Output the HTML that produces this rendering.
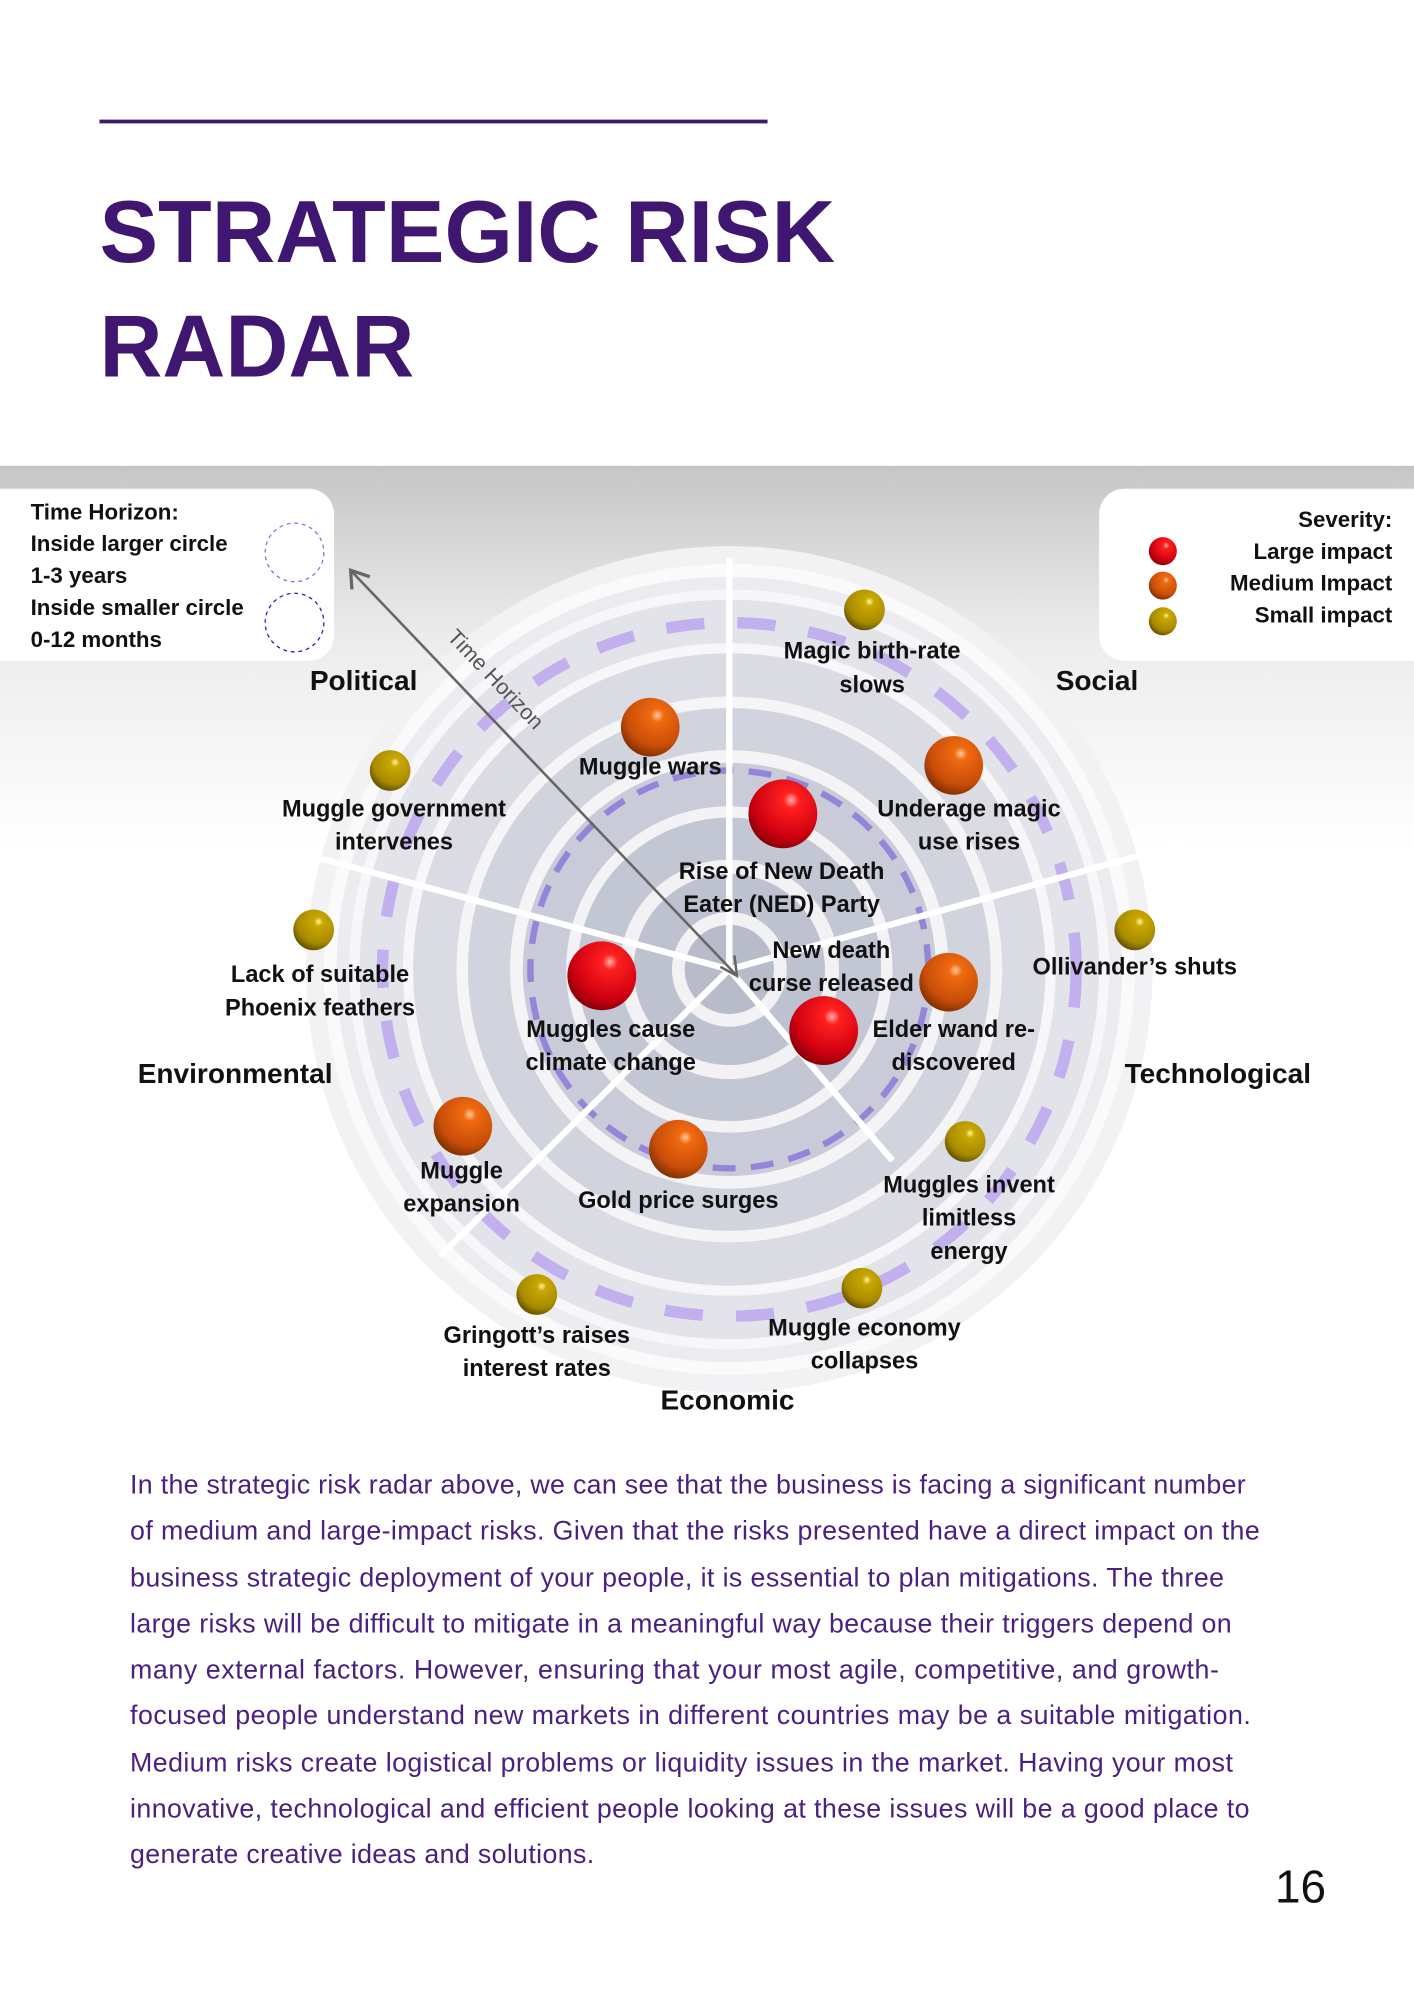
<!DOCTYPE html>
<html><head><meta charset="utf-8"><style>
html,body{margin:0;padding:0;background:#fff;}
svg{display:block;}
text{font-family:"Liberation Sans",sans-serif;}
</style></head><body>
<svg width="1414" height="2000" viewBox="0 0 1109 1568" xmlns="http://www.w3.org/2000/svg">
<defs>
<linearGradient id="bg" x1="0" y1="0" x2="0" y2="1">
<stop offset="0" stop-color="#c6c6c6"/><stop offset="0.45" stop-color="#ececec"/><stop offset="1" stop-color="#ffffff"/>
</linearGradient>
<radialGradient id="red" cx="0.62" cy="0.3" r="0.75">
<stop offset="0" stop-color="#ffb0b0"/><stop offset="0.15" stop-color="#ff2020"/><stop offset="0.7" stop-color="#d00010"/><stop offset="1" stop-color="#800008"/>
</radialGradient>
<radialGradient id="org" cx="0.62" cy="0.3" r="0.75">
<stop offset="0" stop-color="#ffc8a0"/><stop offset="0.15" stop-color="#f06a10"/><stop offset="0.7" stop-color="#c84d08"/><stop offset="1" stop-color="#7a2c02"/>
</radialGradient>
<radialGradient id="yel" cx="0.62" cy="0.3" r="0.75">
<stop offset="0" stop-color="#fff4a0"/><stop offset="0.15" stop-color="#c8a800"/><stop offset="0.7" stop-color="#a88a00"/><stop offset="1" stop-color="#5c4a00"/>
</radialGradient>
</defs>
<rect width="1109" height="1568" fill="#fff"/>
<line x1="78" y1="95" x2="602" y2="95" stroke="#3d1a6e" stroke-width="3"/>
<text x="78" y="205" font-size="69" font-weight="bold" fill="#3f1670" textLength="577" lengthAdjust="spacingAndGlyphs">STRATEGIC RISK</text>
<text x="78" y="295" font-size="69" font-weight="bold" fill="#3f1670" textLength="247" lengthAdjust="spacingAndGlyphs">RADAR</text>
<rect x="0" y="365" width="1109" height="300" fill="url(#bg)"/>

<g>
<circle cx="572" cy="760" r="332" fill="#f2f2f5"/>
<circle cx="572" cy="760" r="318" fill="#fafafb"/>
<circle cx="572" cy="760" r="308" fill="#ebebf0"/>
<circle cx="572" cy="760" r="298" fill="#f7f7f9"/>
<circle cx="572" cy="760" r="290" fill="#e3e4ea"/>
<circle cx="572" cy="760" r="256" fill="#f7f7f9"/>
<circle cx="572" cy="760" r="248" fill="#dadbe3"/>
<circle cx="572" cy="760" r="214" fill="#f5f5f8"/>
<circle cx="572" cy="760" r="205" fill="#d1d3dd"/>
<circle cx="572" cy="760" r="172" fill="#f4f4f7"/>
<circle cx="572" cy="760" r="162" fill="#c9ccd8"/>
<circle cx="572" cy="760" r="128" fill="#f3f3f6"/>
<circle cx="572" cy="760" r="119" fill="#c3c6d3"/>
<circle cx="572" cy="760" r="86" fill="#f2f2f5"/>
<circle cx="572" cy="760" r="75" fill="#bec1cf"/>
<circle cx="572" cy="760" r="45" fill="#f2f2f5"/>
<circle cx="572" cy="760" r="35" fill="#b8bbca"/>
<circle cx="572" cy="760" r="272" fill="none" stroke="#c2b0ee" stroke-width="9" stroke-dasharray="30 26"/>
<circle cx="572" cy="760" r="156" fill="none" stroke="#9485d8" stroke-width="5" stroke-dasharray="18 12"/>
<g stroke="#fff" stroke-width="5">
<line x1="572" y1="760" x2="572" y2="437"/>
<line x1="572" y1="760" x2="925" y2="662"/>
<line x1="572" y1="760" x2="222" y2="665"/>
<line x1="572" y1="760" x2="345" y2="985"/>
<line x1="572" y1="760" x2="700" y2="910"/>
</g>
</g>

<line x1="578" y1="765" x2="275" y2="447" stroke="#666" stroke-width="2"/>
<path d="M290,452 L275,447 L276,462" fill="none" stroke="#666" stroke-width="2.5"/>
<path d="M565,758 L578,765 L576,749" fill="none" stroke="#666" stroke-width="2"/>
<text x="350" y="500" font-size="17" fill="#555" transform="rotate(46.4 350 500)">Time Horizon</text>

<rect x="-20" y="383" width="282" height="135" rx="20" fill="#fff"/>
<g font-size="17.5" font-weight="bold" fill="#111">
<text x="24" y="407">Time Horizon:</text>
<text x="24" y="432">Inside larger circle</text>
<text x="24" y="457">1-3 years</text>
<text x="24" y="482">Inside smaller circle</text>
<text x="24" y="507">0-12 months</text>
</g>
<ellipse cx="231" cy="433" rx="23" ry="23" fill="none" stroke="#8a6cf0" stroke-width="1" stroke-dasharray="3 3"/>
<ellipse cx="231" cy="488" rx="23" ry="23" fill="none" stroke="#2020c0" stroke-width="1" stroke-dasharray="3 3"/>

<rect x="862" y="383" width="280" height="135" rx="20" fill="#fff"/>
<g font-size="17.5" font-weight="bold" fill="#111" text-anchor="end">
<text x="1092" y="413">Severity:</text>
<text x="1092" y="438">Large impact</text>
<text x="1092" y="463">Medium Impact</text>
<text x="1092" y="488">Small impact</text>
</g>
<circle cx="912" cy="432" r="11" fill="url(#red)"/>
<circle cx="912" cy="459" r="11" fill="url(#org)"/>
<circle cx="912" cy="487" r="11" fill="url(#yel)"/>

<g font-size="22" font-weight="bold" fill="#111">
<text x="243" y="541">Political</text>
<text x="828" y="541">Social</text>
<text x="108" y="849">Environmental</text>
<text x="882" y="849">Technological</text>
<text x="518" y="1105">Economic</text>
</g>

<circle cx="614" cy="638" r="27" fill="url(#red)"/>
<circle cx="472" cy="765" r="27" fill="url(#red)"/>
<circle cx="646" cy="808" r="27" fill="url(#red)"/>
<circle cx="510" cy="570" r="23" fill="url(#org)"/>
<circle cx="748" cy="600" r="23" fill="url(#org)"/>
<circle cx="744" cy="770" r="23" fill="url(#org)"/>
<circle cx="363" cy="883" r="23" fill="url(#org)"/>
<circle cx="532" cy="901" r="23" fill="url(#org)"/>
<circle cx="678" cy="478" r="16" fill="url(#yel)"/>
<circle cx="306" cy="604" r="16" fill="url(#yel)"/>
<circle cx="246" cy="729" r="16" fill="url(#yel)"/>
<circle cx="890" cy="729" r="16" fill="url(#yel)"/>
<circle cx="757" cy="895" r="16" fill="url(#yel)"/>
<circle cx="421" cy="1015" r="16" fill="url(#yel)"/>
<circle cx="676" cy="1010" r="16" fill="url(#yel)"/>

<g font-size="18.5" font-weight="bold" fill="#111" text-anchor="middle">
<text x="684" y="516">Magic birth-rate</text><text x="684" y="543">slows</text>
<text x="510" y="607">Muggle wars</text>
<text x="309" y="640">Muggle government</text><text x="309" y="666">intervenes</text>
<text x="760" y="640">Underage magic</text><text x="760" y="666">use rises</text>
<text x="613" y="689">Rise of New Death</text><text x="613" y="715">Eater (NED) Party</text>
<text x="652" y="751">New death</text><text x="652" y="777">curse released</text>
<text x="890" y="764">Ollivander’s shuts</text>
<text x="251" y="770">Lack of suitable</text><text x="251" y="796">Phoenix feathers</text>
<text x="479" y="813">Muggles cause</text><text x="479" y="839">climate change</text>
<text x="748" y="813">Elder wand re-</text><text x="748" y="839">discovered</text>
<text x="362" y="924">Muggle</text><text x="362" y="950">expansion</text>
<text x="532" y="947">Gold price surges</text>
<text x="760" y="935">Muggles invent</text><text x="760" y="961">limitless</text><text x="760" y="987">energy</text>
<text x="421" y="1053">Gringott’s raises</text><text x="421" y="1079">interest rates</text>
<text x="678" y="1047">Muggle economy</text><text x="678" y="1073">collapses</text>
</g>

<g font-size="21" fill="#4a2080" lengthAdjust="spacingAndGlyphs">
<text x="102" y="1171" textLength="875">In the strategic risk radar above, we can see that the business is facing a significant number</text>
<text x="102" y="1207" textLength="886">of medium and large-impact risks. Given that the risks presented have a direct impact on the</text>
<text x="102" y="1244" textLength="858">business strategic deployment of your people, it is essential to plan mitigations. The three</text>
<text x="102" y="1280" textLength="864">large risks will be difficult to mitigate in a meaningful way because their triggers depend on</text>
<text x="102" y="1316" textLength="854">many external factors. However, ensuring that your most agile,  competitive, and growth-</text>
<text x="102" y="1352" textLength="879">focused people understand new markets in different countries may be a suitable mitigation.</text>
<text x="102" y="1389" textLength="865">Medium risks create logistical problems or liquidity issues in the market. Having your most</text>
<text x="102" y="1425" textLength="878">innovative, technological and efficient people looking at these issues will be a good place to</text>
<text x="102" y="1461" textLength="364">generate creative ideas and solutions.</text>
</g>
<text x="1040" y="1492" font-size="36" fill="#111" text-anchor="end">16</text>
</svg>
</body></html>
